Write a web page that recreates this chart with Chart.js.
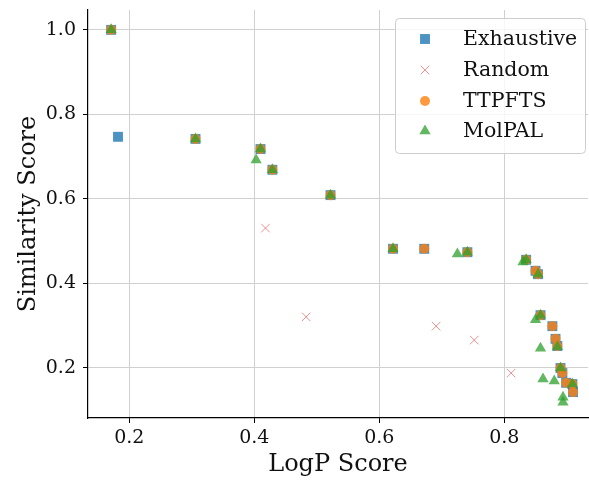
<!DOCTYPE html>
<html>
<head>
<meta charset="utf-8">
<script src="https://cdn.jsdelivr.net/npm/chart.js@4.4.0/dist/chart.umd.min.js"></script>
<style>
html,body{margin:0;padding:0;background:#fff;}
#wrap{width:589px;height:480px;position:relative;}
</style>
</head>
<body>
<div id="wrap"><canvas id="c" width="589" height="480"></canvas></div>
<script>
const seriesNames = ["Exhaustive", "Random", "TTPFTS", "MolPAL"];

const exhaustiveX = [0.171,0.182,0.306,0.410,0.429,0.522,0.622,0.672,0.741,0.835,0.850,0.854,0.858,0.877,0.882,0.885,0.890,0.893,0.899,0.909,0.910];
const exhaustiveY = [1.000,0.747,0.742,0.718,0.669,0.609,0.482,0.482,0.474,0.456,0.430,0.422,0.325,0.299,0.269,0.252,0.200,0.188,0.165,0.162,0.143];

const randomX = [0.418,0.483,0.691,0.752,0.811];
const randomY = [0.531,0.321,0.299,0.266,0.188];

const ttpftsX = [0.171,0.306,0.410,0.429,0.522,0.622,0.672,0.741,0.835,0.850,0.854,0.858,0.877,0.882,0.885,0.890,0.893,0.899,0.909,0.910];
const ttpftsY = [1.000,0.742,0.718,0.669,0.609,0.482,0.482,0.474,0.456,0.430,0.422,0.325,0.299,0.269,0.252,0.200,0.188,0.165,0.162,0.143];

const molpalX = [0.171,0.306,0.403,0.410,0.429,0.522,0.622,0.725,0.741,0.830,0.835,0.854,0.850,0.858,0.858,0.862,0.880,0.885,0.890,0.909,0.894,0.894];
const molpalY = [1.000,0.742,0.692,0.718,0.669,0.609,0.482,0.470,0.474,0.451,0.456,0.422,0.314,0.325,0.247,0.174,0.169,0.250,0.200,0.162,0.131,0.119];

const xTicks = [0.2,0.4,0.6,0.8];
const yTicks = [0.2,0.4,0.6,0.8,1.0];

function pts(xs, ys){ return xs.map((x,i)=>({x:x, y:ys[i]})); }

const serif = "'DejaVu Serif', serif";

const styles = [
  {pointStyle:'rect', radius:7, bg:'rgba(31,119,180,0.8)', border:'rgba(31,119,180,0.8)', bw:0},
  {pointStyle:'crossRot', radius:6, bg:'rgba(214,39,40,0.5)', border:'rgba(214,39,40,0.5)', bw:1},
  {pointStyle:'circle', radius:5, bg:'rgba(255,127,14,0.8)', border:'rgba(255,127,14,0.8)', bw:0},
  {pointStyle:'triangle', radius:6.5, bg:'rgba(44,160,44,0.75)', border:'rgba(44,160,44,0.75)', bw:0}
];
const drawOrder = [3,2,1,0];
const allData = [pts(exhaustiveX,exhaustiveY), pts(randomX,randomY), pts(ttpftsX,ttpftsY), pts(molpalX,molpalY)];

const legendPlugin = {
  id:'boxLegend',
  afterDraw(chart){
    const ctx = chart.ctx;
    const x0=395.5, y0=18.5, w=190, h=135;
    ctx.save();
    ctx.fillStyle='rgba(255,255,255,0.8)';
    ctx.strokeStyle='#cccccc';
    ctx.lineWidth=1;
    ctx.beginPath();
    const r=4;
    ctx.moveTo(x0+r,y0);ctx.lineTo(x0+w-r,y0);ctx.quadraticCurveTo(x0+w,y0,x0+w,y0+r);
    ctx.lineTo(x0+w,y0+h-r);ctx.quadraticCurveTo(x0+w,y0+h,x0+w-r,y0+h);
    ctx.lineTo(x0+r,y0+h);ctx.quadraticCurveTo(x0,y0+h,x0,y0+h-r);
    ctx.lineTo(x0,y0+r);ctx.quadraticCurveTo(x0,y0,x0+r,y0);
    ctx.closePath();ctx.fill();ctx.stroke();
    ctx.font = "20.5px " + serif;
    ctx.textBaseline='middle';
    ctx.textAlign='left';
    const ys=[39,70,101,131];
    seriesNames.forEach((n,i)=>{
      const s=styles[i];
      ctx.fillStyle=s.bg; ctx.strokeStyle=s.border; ctx.lineWidth=s.bw||1;
      Chart.helpers.drawPoint(ctx,{pointStyle:s.pointStyle, radius:s.radius, borderWidth:s.bw}, 425, ys[i]);
      ctx.fillStyle='#111';
      ctx.fillText(n, 463, ys[i]+1);
    });
    ctx.restore();
  }
};

new Chart(document.getElementById('c'), {
  type:'scatter',
  data:{
    datasets: allData.map((d,i)=>({
      label: seriesNames[i],
      data: d,
      order: drawOrder[i],
      pointStyle: styles[i].pointStyle,
      pointRadius: styles[i].radius,
      pointHoverRadius: styles[i].radius,
      backgroundColor: styles[i].bg,
      borderColor: styles[i].border,
      borderWidth: styles[i].bw
    }))
  },
  options:{
    responsive:false,
    animation:false,
    events:[],
    layout:{autoPadding:false, padding:{top:10,right:1,left:0,bottom:0}},
    plugins:{legend:{display:false}, tooltip:{enabled:false}},
    scales:{
      x:{
        type:'linear', min:0.134, max:0.934,
        afterBuildTicks(s){ s.ticks = xTicks.map(v=>({value:v})); },
        afterFit(s){ s.height = 62; s.paddingLeft = 0; s.paddingRight = 0; },
        grid:{color:'#d0d0d0', lineWidth:1, tickColor:'#000', tickLength:5, drawTicks:true},
        border:{color:'#000', width:1.2},
        ticks:{font:{family:serif,size:19}, color:'#111', padding:4, maxRotation:0, callback:v=>v.toFixed(1)},
        title:{display:true, text:'LogP Score', font:{family:serif,size:24}, color:'#111', padding:{top:0,bottom:1}}
      },
      y:{
        type:'linear', min:0.0817, max:1.047,
        afterBuildTicks(s){ s.ticks = yTicks.map(v=>({value:v})); },
        afterFit(s){ s.width = 88; s.paddingTop = 0; s.paddingBottom = 0; },
        grid:{color:'#d0d0d0', lineWidth:1, tickColor:'#000', tickLength:5, drawTicks:true},
        border:{color:'#000', width:1.2},
        ticks:{font:{family:serif,size:19}, color:'#111', padding:7, callback:v=>v.toFixed(1)},
        title:{display:true, text:'Similarity Score', font:{family:serif,size:24}, color:'#111', padding:{top:14,bottom:0}}
      }
    }
  },
  plugins:[legendPlugin]
});
</script>
</body>
</html>
